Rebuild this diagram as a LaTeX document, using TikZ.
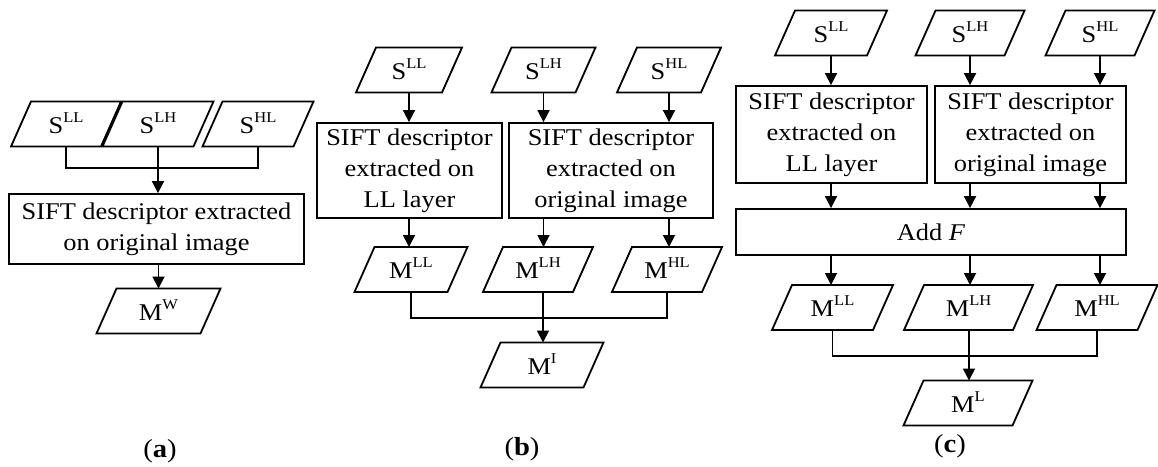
\documentclass[tikz,border=0pt]{standalone}
\usepackage{fontspec}
\setmainfont[FakeStretch=1.1]{Liberation Serif}
\usetikzlibrary{arrows.meta}

% raised, smaller index letters (S^LL, M^HL, ...)
\newcommand\hi[1]{\raisebox{11pt}{\fontsize{15}{15}\selectfont #1}}

\tikzset{
  wire/.style={line width=1.8pt},
  arr/.style={line width=1.8pt, -{Triangle[length=12pt,width=12pt]}},
  io/.style={rectangle, inner sep=0pt, outer sep=0pt, text height=18pt, text depth=0pt,
    minimum height=45pt, font=\fontsize{24}{31}\selectfont},
  proc/.style={rectangle, draw, line width=1.8pt, inner sep=0pt, align=center,
    font=\fontsize{24}{31}\selectfont},
  tag/.style={font=\fontsize{26}{30}\selectfont}
}

\begin{document}
\begin{tikzpicture}[x=1pt,y=-1pt]
\useasboundingbox (0,0) rectangle (1158,466);

% ---------------- (a) ----------------
\node[io, minimum width=90pt] (aSLL) at (66,124)  {S\hi{LL}};
\node[io, minimum width=91pt] (aSLH) at (158,124) {S\hi{LH}};
\node[io, minimum width=91pt] (aSHL) at (258,124) {S\hi{HL}};
\node[proc, minimum width=295pt, minimum height=70pt] (aBox) at (156.5,229)
  {SIFT descriptor extracted\\on original image};
\node[io, minimum width=104pt] (aMW) at (158.5,311) {M\hi{W}};
\coordinate (aJ) at (158,168);

\draw[wire] (aSLL.south) |- (aJ);
\draw[wire] (aSHL.south) |- (aJ);
\draw[arr] (aSLH.south) -- (aSLH.south |- aBox.north);
\draw[arr] (aMW.north |- aBox.south) -- (aMW.north);

\node[tag] (la) at (160,451) {(\textbf{a})};

% ---------------- (b) ----------------
\node[io, minimum width=86pt] (bSLL) at (409,70)   {S\hi{LL}};
\node[io, minimum width=84pt] (bSLH) at (543.5,70) {S\hi{LH}};
\node[io, minimum width=84pt] (bSHL) at (669,70)   {S\hi{HL}};
\node[proc, minimum width=185pt, minimum height=95pt] (bBL) at (409.5,170.5)
  {SIFT descriptor\\extracted on\\LL layer};
\node[proc, minimum width=204pt, minimum height=95pt] (bBO) at (611,170.5)
  {SIFT descriptor\\extracted on\\original image};
\node[io, minimum width=93pt] (bMLL) at (411,269.5) {M\hi{LL}};
\node[io, minimum width=90pt] (bMLH) at (538,269.5) {M\hi{LH}};
\node[io, minimum width=90pt] (bMHL) at (667,269.5) {M\hi{HL}};
\node[io, minimum width=103pt] (bMI) at (542,365) {M\hi{I}};
\coordinate (bJ) at (543,318);

\draw[arr] (bSLL.south) -- (bSLL.south |- bBL.north);
\draw[arr] (bSLH.south) -- (bSLH.south |- bBO.north);
\draw[arr] (bSHL.south) -- (bSHL.south |- bBO.north);
\draw[arr] (bSLL |- bBL.south) -- (bSLL |- bMLL.north);
\draw[arr] (bSLH |- bBO.south) -- (bSLH |- bMLH.north);
\draw[arr] (bSHL |- bBO.south) -- (bSHL |- bMHL.north);
\draw[wire] (bMLL.south) |- (bJ);
\draw[wire] (bMHL.south) |- (bJ);
\draw[wire] (bJ |- bMLH.south) -- (bJ);
\draw[arr] (bJ) -- (bJ |- bMI.north);

\node[tag] (lb) at (522,449) {(\textbf{b})};

% ---------------- (c) ----------------
\node[io, minimum width=92pt] (cSLL) at (831,33)  {S\hi{LL}};
\node[io, minimum width=89pt] (cSLH) at (970,33)  {S\hi{LH}};
\node[io, minimum width=89pt] (cSHL) at (1100,33) {S\hi{HL}};
\node[proc, minimum width=191pt, minimum height=97pt] (cBL) at (831.5,134.5)
  {SIFT descriptor\\extracted on\\LL layer};
\node[proc, minimum width=191pt, minimum height=97pt] (cBO) at (1030.5,134.5)
  {SIFT descriptor\\extracted on\\original image};
\node[proc, minimum width=390pt, minimum height=46pt] (cAdd) at (931,232) {Add \textit{F}};
\node[io, minimum width=101pt] (cMLL) at (832.5,307.5) {M\hi{LL}};
\node[io, minimum width=109pt] (cMLH) at (968.5,307.5) {M\hi{LH}};
\node[io, minimum width=101pt] (cMHL) at (1097,307.5)  {M\hi{HL}};
\node[io, minimum width=109pt] (cML) at (968,403) {M\hi{L}};
\coordinate (cJ) at (969,356);

\draw[arr] (cSLL.south) -- (cSLL.south |- cBL.north);
\draw[arr] (cSLH.south) -- (cSLH.south |- cBO.north);
\draw[arr] (cSHL.south) -- (cSHL.south |- cBO.north);
\draw[arr] (cSLL |- cBL.south) -- (cSLL |- cAdd.north);
\draw[arr] (cSLH |- cBO.south) -- (cSLH |- cAdd.north);
\draw[arr] (cSHL |- cBO.south) -- (cSHL |- cAdd.north);
\draw[arr] (cSLL |- cAdd.south) -- (cSLL |- cMLL.north);
\draw[arr] (cSLH |- cAdd.south) -- (cSLH |- cMLH.north);
\draw[arr] (cSHL |- cAdd.south) -- (cSHL |- cMHL.north);
\draw[wire] (cMLL.south) |- (cJ);
\draw[wire] (cMHL.south) |- (cJ);
\draw[wire] (cJ |- cMLH.south) -- (cJ);
\draw[arr] (cJ) -- (cJ |- cML.north);

\node[tag] (lc) at (950,446) {(\textbf{c})};

% slanted outlines of the data (parallelogram) nodes
\foreach \n in {aSLL,aSLH,aSHL,aMW,bSLL,bSLH,bSHL,bMLL,bMLH,bMHL,bMI,
                cSLL,cSLH,cSHL,cMLL,cMLH,cMHL,cML}
  \draw[wire, line join=miter]
    ([xshift=-10pt]\n.south west) -- ([xshift=-10pt]\n.south east)
    -- ([xshift=10pt]\n.north east) -- ([xshift=10pt]\n.north west) -- cycle;
\end{tikzpicture}
\end{document}
